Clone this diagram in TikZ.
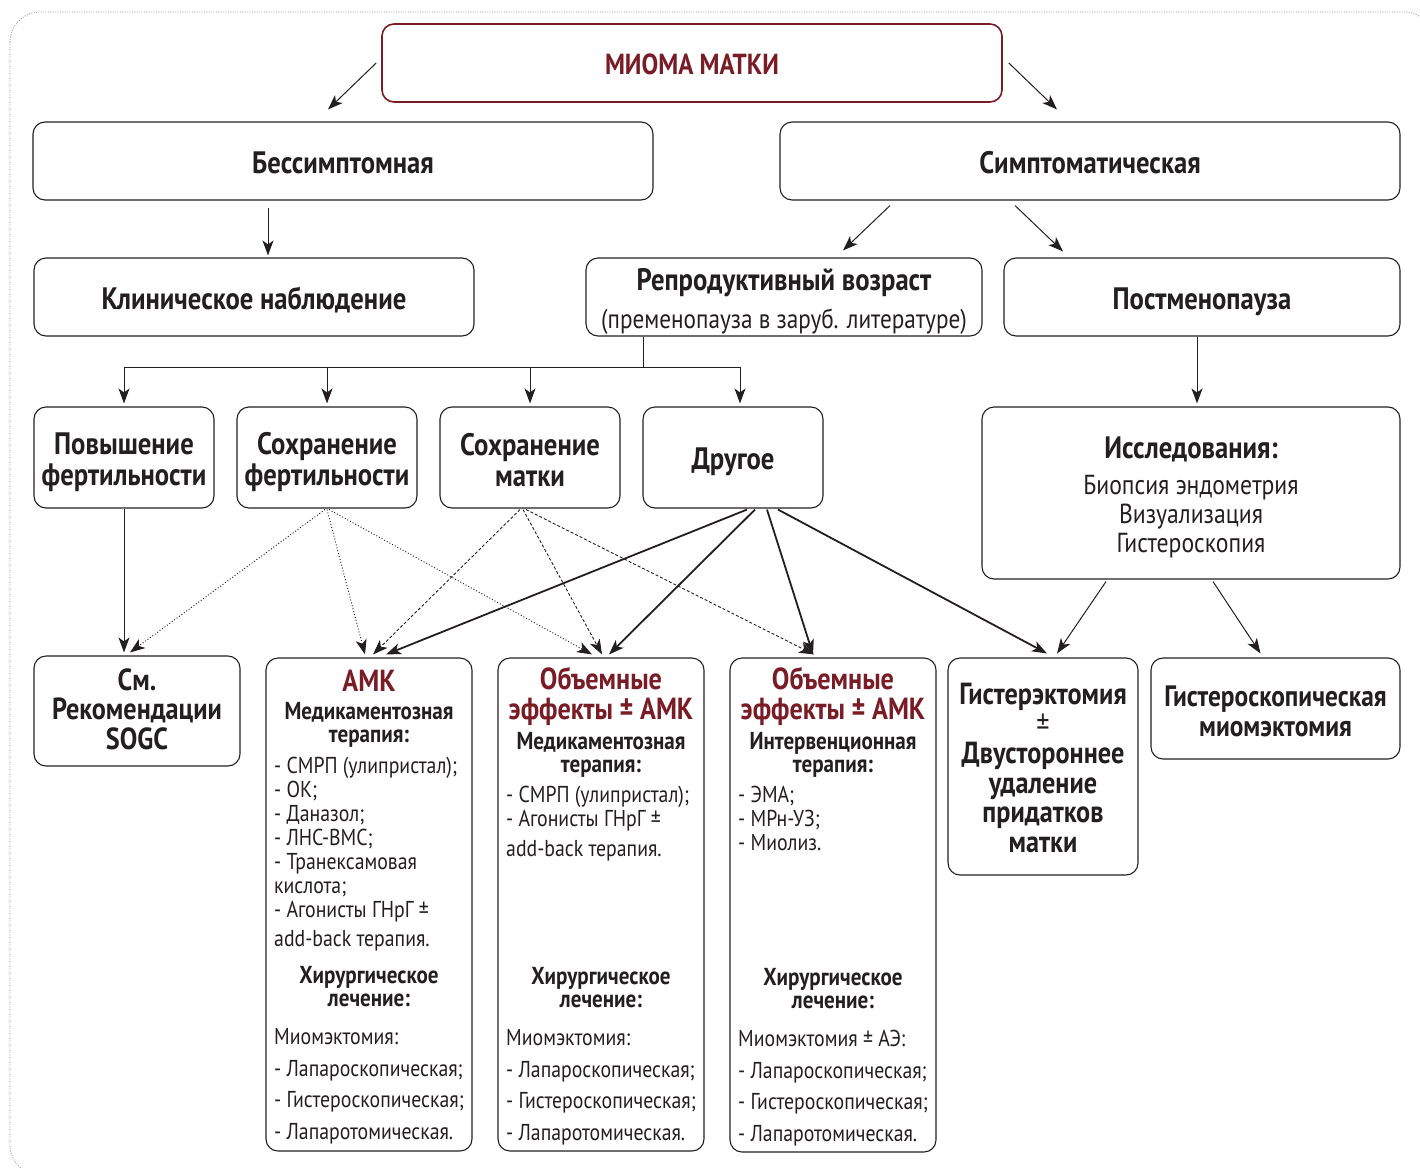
\documentclass[tikz,border=0pt]{standalone}
\usepackage{fontspec}
\setmainfont{PT Sans}[FakeStretch=0.86]
\usetikzlibrary{arrows.meta,calc}
\definecolor{dred}{RGB}{122,28,38}
\definecolor{ink}{RGB}{35,31,32}
\newcommand\fA{\fontsize{31}{31}\selectfont}
\newcommand\fT{\fontsize{30.5}{30}\selectfont}
\newcommand\fG{\fontsize{30.5}{29.5}\selectfont}
\newcommand\fR{\fontsize{27.5}{29}\selectfont}
\newcommand\fH{\fontsize{24.5}{22.5}\selectfont}
\newcommand\fL{\fontsize{23}{24}\selectfont}
\newcommand\st[1]{\rule{0pt}{#1pt}}
\begin{document}
\begin{tikzpicture}[x=1pt,y=-1pt,
  box/.style={draw=ink, line width=1.1pt, rounded corners=12pt, inner sep=0pt, align=center, text=ink, font=\fA\bfseries},
  arr/.style={-{Stealth[length=15pt,width=11pt,inset=4pt]}, line width=1pt, draw=ink},
  tarr/.style={arr, line width=1.8pt},
  dotarr/.style={arr, line width=0.9pt, dash pattern=on 1pt off 2pt},
  dasharr/.style={arr, line width=0.9pt, dash pattern=on 3pt off 2pt},
  ttl/.style={font=\fT\bfseries, text=dred, anchor=base, align=center, inner sep=0pt},
  hd/.style={font=\fH\bfseries, text=ink, anchor=base, align=center, inner sep=0pt},
  lst/.style={font=\fL, text=ink, anchor=base west, align=left, inner sep=0pt},
  plain/.style={text=ink, anchor=base, align=center, inner sep=0pt}]
\useasboundingbox[fill=white] (0,0) rectangle (1420,1167);
\begin{scope}
\clip (0,0) rectangle (1420,1167);
\draw[gray, line width=0.8pt, dash pattern=on 0.8pt off 1.6pt, rounded corners=30pt] (10,12) rectangle (1434,1175);
\end{scope}

% boxes
\node[box, draw=dred, line width=1.6pt, text=dred, font=\fontsize{29}{30}\selectfont\bfseries, minimum width=620pt, minimum height=78pt] (mioma) at (692,63) {\st{23}МИОМА МАТКИ};
\node[box, minimum width=620pt, minimum height=78pt] (bes) at (343,161) {\st{26}Бессимптомная};
\node[box, minimum width=620pt, minimum height=78pt] (sym) at (1090,161) {\st{26}Симптоматическая};
\node[box, minimum width=440pt, minimum height=78pt] (klin) at (254,297) {\st{28}Клиническое наблюдение};
\node[box, minimum width=396pt, minimum height=78pt] (repr) at (784,297) {};
\node[box, minimum width=396pt, minimum height=78pt] (post) at (1202,297) {\st{32}Постменопауза};
\node[box, minimum width=180pt, minimum height=101pt] (pov) at (124,457.5) {\st{32}Повышение\\фертильности};
\node[box, minimum width=180pt, minimum height=101pt] (sfert) at (327,457.5) {\st{32}Сохранение\\фертильности};
\node[box, minimum width=180pt, minimum height=101pt] (smat) at (530,457.5) {\st{28}Сохранение\\матки};
\node[box, minimum width=180pt, minimum height=101pt] (dr) at (733,457.5) {\st{30}Другое};
\node[box, minimum width=418pt, minimum height=172pt] (issl) at (1191,493) {};
\node[box, font=\fG\bfseries, minimum width=206pt, minimum height=110pt] (sm) at (137,711) {См.\\Рекомендации\\SOGC\rule[-4pt]{0pt}{4pt}};
\node[box, minimum width=206pt, minimum height=493pt] (amk) at (369,904.5) {};
\node[box, minimum width=206pt, minimum height=493pt] (ob1) at (601,904.5) {};
\node[box, minimum width=206pt, minimum height=494pt] (ob2) at (833,905) {};
\node[box, minimum width=190pt, minimum height=217pt] (gist) at (1043,766.5) {};
\node[box, font=\fontsize{29.5}{30}\selectfont\bfseries, minimum width=249pt, minimum height=101pt] (gsk) at (1275.5,708.5) {\st{27}Гистероскопическая\\миомэктомия};

% texts inside boxes
\node[plain, font=\fA\bfseries] (reprT) at (784,290) {Репродуктивный возраст};
\node[plain, font=\fontsize{27}{30}\selectfont] (reprS) at (784,328) {(пременопауза в заруб. литературе)};
\node[plain, font=\fA\bfseries] (isslT) at (1191,458) {Исследования:};
\node[plain, font=\fR] (isslL) at (1191,552) {Биопсия эндометрия\\Визуализация\\Гистероскопия};
\node[plain, font=\fG\bfseries] (gistT) at (1043,852) {Гистерэктомия\\{\mdseries ±}\\Двустороннее\\удаление\\придатков\\матки};

% AMK column
\node[ttl] (amkT) at (369,691) {АМК};
\node[hd] (amkH) at (369,742) {Медикаментозная\\терапия:};
\node[lst] (amkL) at (274,946) {- СМРП (улипристал);\\- ОК;\\- Даназол;\\- ЛНС-ВМС;\\- Транексамовая\\кислота;\\- Агонисты ГНрГ ±\\[5pt]add-back терапия.};
\node[hd] (amkS) at (369,1006) {Хирургическое\\лечение:};
\node[lst] (amkM) at (274,1139) {Миомэктомия:\\[7.5pt]- Лапароскопическая;\\[7.5pt]- Гистероскопическая;\\[7.5pt]- Лапаротомическая.};

% Ob1 column
\node[ttl] (ob1T) at (601,719) {Объемные\\эффекты ± АМК};
\node[hd] (ob1H) at (601,772) {Медикаментозная\\терапия:};
\node[lst] (ob1L) at (506,856) {- СМРП (улипристал);\\- Агонисты ГНрГ ±\\[6pt]add-back терапия.};
\node[hd] (ob1S) at (601,1007) {Хирургическое\\лечение:};
\node[lst] (ob1M) at (506,1140) {Миомэктомия:\\[7.5pt]- Лапароскопическая;\\[7.5pt]- Гистероскопическая;\\[7.5pt]- Лапаротомическая.};

% Ob2 column
\node[ttl] (ob2T) at (833,719) {Объемные\\эффекты ± АМК};
\node[hd] (ob2H) at (833,772) {Интервенционная\\терапия:};
\node[lst] (ob2L) at (738,850) {- ЭМА;\\- МРн-УЗ;\\- Миолиз.};
\node[hd] (ob2S) at (833,1008) {Хирургическое\\лечение:};
\node[lst] (ob2M) at (738,1141) {Миомэктомия ± АЭ:\\[7.5pt]- Лапароскопическая;\\[7.5pt]- Гистероскопическая;\\[7.5pt]- Лапаротомическая.};

% connectors
\draw[arr] ($(mioma.west)+(-5,0)$) -- ($(bes.north)+(-15,-12)$);
\draw[arr] ($(mioma.east)+(6,0)$) -- ($(sym.north)+(-33,-12)$);
\draw[arr] ($(bes.south)+(-75,7)$) -- ($(klin.north)+(14,-2)$);
\draw[arr] ($(sym.south)+(-200,5)$) -- ($(repr.north)+(59,-7)$);
\draw[arr] ($(sym.south)+(-75,5)$) -- ($(post.north)+(-139,-6)$);

\coordinate (junc) at ($(repr.south)+(-141,31)$);
\draw[line width=1pt, draw=ink] ($(repr.south)+(-141,0)$) -- (junc);
\draw[arr] (junc) -| ($(pov.north)+(0,-3)$);
\draw[arr] (junc) -| ($(sfert.north)+(0,-3)$);
\draw[arr] (junc) -| ($(smat.north)+(0,-3)$);
\draw[arr] (junc) -| ($(dr.north)+(7,-3)$);
\draw[arr] ($(post.south)+(-5,0)$) -- ($(issl.north)+(6,-3)$);

\draw[arr] (pov.south) -- ($(sm.north)+(-13,-3)$);
\draw[dotarr] ($(sfert.south)+(-2,1)$) -- ($(sm.north)+(-7,-3)$);
\draw[dotarr] ($(sfert.south)+(0,1)$) -- ($(amk.north)+(-4,-3)$);
\draw[dotarr] ($(sfert.south)+(2,1)$) -- ($(ob1.north)+(-9,-3)$);
\draw[dasharr] ($(smat.south)+(-10,1)$) -- ($(amk.north)+(4,-3)$);
\draw[dasharr] ($(smat.south)+(-7,1)$) -- ($(ob1.north)+(1,-3)$);
\draw[dasharr] ($(smat.south)+(-4,1)$) -- ($(ob2.north)+(-19,-3)$);
\draw[tarr] ($(dr.south)+(14,1)$) -- ($(amk.north)+(17,-3)$);
\draw[tarr] ($(dr.south)+(22,1)$) -- ($(ob1.north)+(8,-3)$);
\draw[tarr] ($(dr.south)+(34,1)$) -- ($(ob2.north)+(-20,-3)$);
\draw[tarr] ($(dr.south)+(45,1)$) -- ($(gist.north)+(4,-4)$);
\draw[arr] ($(issl.south)+(-85,2)$) -- ($(gist.north)+(14,-4)$);
\draw[arr] ($(issl.south)+(22,2)$) -- ($(gsk.north)+(-15,-4)$);
\end{tikzpicture}
\end{document}
